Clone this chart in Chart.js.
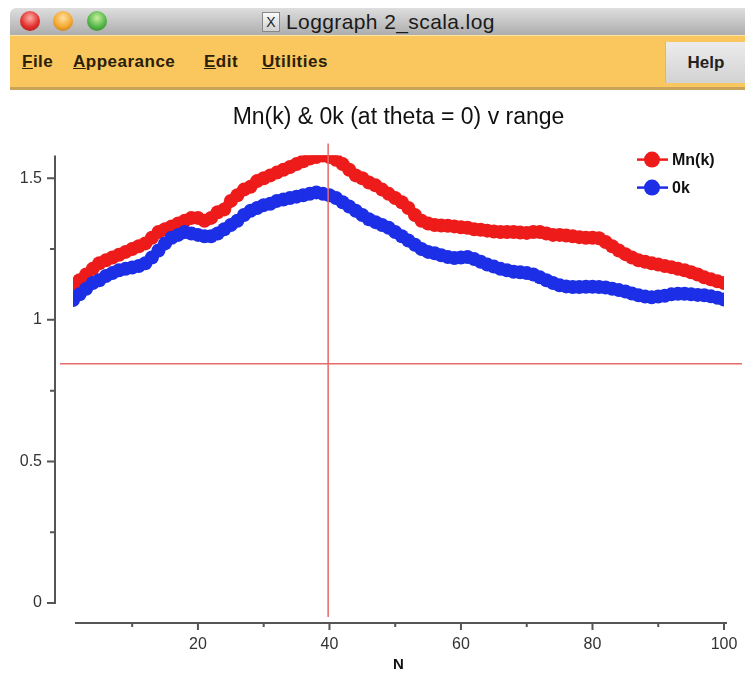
<!DOCTYPE html>
<html>
<head>
<meta charset="utf-8">
<title>Loggraph 2_scala.log</title>
<script src="https://cdn.jsdelivr.net/npm/chart.js@4.4.1/dist/chart.umd.min.js"></script>
<style>
  body { margin: 0; width: 745px; height: 674px; background: #fff; overflow: hidden; position: relative;
         font-family: "Liberation Sans", Arial, sans-serif; }
  #titlebar { position: absolute; left: 10px; top: 8px; right: 0; height: 27px;
              background: linear-gradient(#dedede, #adadad); border-top-left-radius: 6px; }
  .light { position: absolute; top: 3px; width: 20px; height: 20px; border-radius: 50%; }
  .red { left: 10px; background: radial-gradient(circle at 50% 35%, #ffb0a8, #e2302e 55%, #a01414); }
  .amber { left: 43px; background: radial-gradient(circle at 50% 35%, #ffe0a0, #f4a830 55%, #b06a10); }
  .green { left: 77px; background: radial-gradient(circle at 50% 35%, #c8f0a0, #54b648 55%, #2a7a22); }
  #xicon { position: absolute; left: 252px; top: 4px; width: 16px; height: 18px; background: linear-gradient(#fafafa, #cfcfcf);
           border: 1px solid #888; font: 14px "Liberation Sans", sans-serif; line-height: 18px; text-align: center; color: #222; }
  #wtitle { position: absolute; left: 276px; top: 2px; font: 21px "Liberation Sans", sans-serif; color: #1a1a1a; letter-spacing: 0.4px; }
  #menubar { position: absolute; left: 10px; top: 35px; right: 0; height: 51px; background: #f9c75e;
             border-top: 1px solid #fde6a6; border-bottom: 3px solid #c9a35a; }
  .menu { position: absolute; top: 16px; font: bold 17px "Liberation Sans", sans-serif; color: #2a2008; letter-spacing: 0.5px; }
  .menu u { text-decoration: underline; }
  #help { position: absolute; left: 665px; top: 42px; width: 80px; height: 41px;
          background: linear-gradient(#ececec, #d2d2d2); border-left: 1px solid #bbb;
          font: bold 17px "Liberation Sans", sans-serif; color: #222; text-align: center; line-height: 41px; }
  #chart { position: absolute; left: 0; top: 90px; }
</style>
</head>
<body>
<div id="titlebar">
  <div class="light red"></div><div class="light amber"></div><div class="light green"></div>
  <div id="xicon">X</div>
  <div id="wtitle">Loggraph 2_scala.log</div>
</div>
<div id="menubar">
  <span class="menu" style="left:12px"><u>F</u>ile</span>
  <span class="menu" style="left:63px"><u>A</u>ppearance</span>
  <span class="menu" style="left:194px"><u>E</u>dit</span>
  <span class="menu" style="left:252px"><u>U</u>tilities</span>
</div>
<div id="help">Help</div>
<canvas id="chart" width="745" height="584"></canvas>

<script>
// sample index
const N = [1, 2, 3, 4, 5, 6, 7, 8, 9, 10, 11, 12, 13, 14, 15, 16, 17, 18, 19, 20,
  21, 22, 23, 24, 25, 26, 27, 28, 29, 30, 31, 32, 33, 34, 35, 36, 37, 38, 39, 40,
  41, 42, 43, 44, 45, 46, 47, 48, 49, 50, 51, 52, 53, 54, 55, 56, 57, 58, 59, 60,
  61, 62, 63, 64, 65, 66, 67, 68, 69, 70, 71, 72, 73, 74, 75, 76, 77, 78, 79, 80,
  81, 82, 83, 84, 85, 86, 87, 88, 89, 90, 91, 92, 93, 94, 95, 96, 97, 98, 99, 100];

const mnk = [1.12, 1.14, 1.16, 1.18, 1.20, 1.21, 1.22, 1.23, 1.24, 1.25,
  1.26, 1.27, 1.29, 1.31, 1.32, 1.33, 1.34, 1.35, 1.36, 1.36,
  1.35, 1.36, 1.38, 1.39, 1.42, 1.44, 1.46, 1.47, 1.49, 1.50,
  1.51, 1.52, 1.53, 1.54, 1.55, 1.56, 1.57, 1.575, 1.58, 1.575,
  1.565, 1.55, 1.53, 1.51, 1.50, 1.485, 1.475, 1.46, 1.445, 1.43,
  1.415, 1.395, 1.37, 1.35, 1.34, 1.335, 1.333, 1.332, 1.33, 1.327,
  1.325, 1.32, 1.318, 1.315, 1.312, 1.31, 1.31, 1.31, 1.308, 1.307,
  1.31, 1.31, 1.305, 1.30, 1.30, 1.298, 1.295, 1.292, 1.29, 1.29,
  1.288, 1.275, 1.26, 1.245, 1.232, 1.22, 1.21, 1.205, 1.20, 1.195,
  1.19, 1.186, 1.18, 1.175, 1.168, 1.16, 1.15, 1.143, 1.136, 1.13];

const ok = [1.07, 1.09, 1.11, 1.13, 1.14, 1.155, 1.165, 1.175, 1.18, 1.185,
  1.19, 1.20, 1.22, 1.245, 1.27, 1.29, 1.30, 1.31, 1.305, 1.30,
  1.295, 1.295, 1.305, 1.32, 1.335, 1.35, 1.37, 1.385, 1.395, 1.405,
  1.41, 1.42, 1.425, 1.43, 1.435, 1.44, 1.445, 1.45, 1.445, 1.44,
  1.43, 1.415, 1.40, 1.385, 1.37, 1.355, 1.345, 1.335, 1.325, 1.31,
  1.295, 1.28, 1.265, 1.25, 1.24, 1.235, 1.228, 1.222, 1.218, 1.22,
  1.222, 1.215, 1.205, 1.195, 1.188, 1.18, 1.175, 1.17, 1.168, 1.165,
  1.16, 1.15, 1.14, 1.13, 1.122, 1.118, 1.116, 1.116, 1.117, 1.117,
  1.116, 1.114, 1.11, 1.105, 1.10, 1.093, 1.087, 1.082, 1.08, 1.082,
  1.085, 1.09, 1.092, 1.092, 1.09, 1.088, 1.087, 1.083, 1.078, 1.072];

const xTicks = [10, 20, 30, 40, 50, 60, 70, 80, 90, 100];
const yTicks = [0, 0.25, 0.5, 0.75, 1, 1.25, 1.5];

// cursor position (N, value)
const crossN = 39.8;
const crossV = 0.845;

const isMajorY = v => Math.abs(v * 2 - Math.round(v * 2)) < 1e-9;
const FONT = '"Liberation Sans", sans-serif';

// axes are drawn detached from the plot area, like the original tool does
const detachedAxes = {
  id: 'detachedAxes',
  afterDraw(chart) {
    const { ctx, chartArea: ca, scales: { x, y } } = chart;
    const ax = ca.left - 18, ay = ca.bottom + 20;
    ctx.save();
    ctx.strokeStyle = '#555';
    ctx.lineWidth = 2;
    ctx.beginPath();
    ctx.moveTo(ax, ca.top);
    ctx.lineTo(ax, y.getPixelForValue(0) + 1);
    y.ticks.forEach(t => {
      const py = y.getPixelForValue(t.value);
      const len = isMajorY(t.value) ? 8 : 5;
      ctx.moveTo(ax - len, py);
      ctx.lineTo(ax, py);
    });
    ctx.moveTo(ca.left + 2, ay);
    ctx.lineTo(ca.right + 3, ay);
    x.ticks.forEach(t => {
      const px = x.getPixelForValue(t.value);
      const len = t.value % 20 === 0 ? 7 : 4;
      ctx.moveTo(px, ay);
      ctx.lineTo(px, ay + len);
    });
    ctx.stroke();
    ctx.restore();
  }
};

const crosshair = {
  id: 'crosshair',
  afterDatasetsDraw(chart) {
    const { ctx, chartArea: ca, scales: { x, y } } = chart;
    const px = x.getPixelForValue(crossN), py = y.getPixelForValue(crossV);
    ctx.save();
    ctx.strokeStyle = '#e86a6a';
    ctx.lineWidth = 1.5;
    ctx.beginPath();
    ctx.moveTo(px, ca.top - 12);
    ctx.lineTo(px, ca.bottom + 14);
    ctx.moveTo(ca.left - 13, py);
    ctx.lineTo(chart.width - 3, py);
    ctx.stroke();
    ctx.restore();
  }
};

// legend sits inside the plot, top right
const insideLegend = {
  id: 'insideLegend',
  afterDraw(chart) {
    const { ctx, chartArea: ca } = chart;
    const x0 = ca.right - 87, y0 = ca.top + 4;
    ctx.save();
    chart.data.datasets.forEach((ds, i) => {
      const yy = y0 + i * 28;
      ctx.strokeStyle = ds.borderColor;
      ctx.fillStyle = ds.borderColor;
      ctx.lineWidth = 2.5;
      ctx.beginPath();
      ctx.moveTo(x0, yy);
      ctx.lineTo(x0 + 31, yy);
      ctx.stroke();
      ctx.beginPath();
      ctx.arc(x0 + 15, yy, 8, 0, Math.PI * 2);
      ctx.fill();
      ctx.fillStyle = '#111';
      ctx.font = 'bold 16px ' + FONT;
      ctx.textBaseline = 'middle';
      ctx.fillText(ds.label, x0 + 35, yy + 1);
    });
    ctx.restore();
  }
};

new Chart(document.getElementById('chart').getContext('2d'), {
  type: 'line',
  data: {
    datasets: [
      {
        label: 'Mn(k)',
        data: mnk.map((v, i) => ({ x: N[i], y: v })),
        borderColor: '#ee1b1b',
        backgroundColor: '#ee1b1b',
        borderWidth: 10,
        pointRadius: 7,
        pointBorderWidth: 0,
        tension: 0,
        order: 1
      },
      {
        label: '0k',
        data: ok.map((v, i) => ({ x: N[i], y: v })),
        borderColor: '#1c2ee6',
        backgroundColor: '#1c2ee6',
        borderWidth: 10,
        pointRadius: 7,
        pointBorderWidth: 0,
        tension: 0,
        order: 0
      }
    ]
  },
  options: {
    responsive: false,
    animation: false,
    layout: { padding: { left: 0, right: 21, top: 0, bottom: 0 } },
    plugins: {
      legend: { display: false },
      tooltip: { enabled: false },
      title: {
        display: true,
        text: 'Mn(k) & 0k (at theta = 0) v range',
        fullSize: false,
        color: '#111',
        font: { family: FONT, size: 23, weight: 'normal' },
        padding: { top: 14, bottom: 24 }
      }
    },
    scales: {
      x: {
        type: 'linear',
        min: 1,
        max: 100,
        grid: { display: false, drawTicks: false },
        border: { display: false },
        afterBuildTicks: s => { s.ticks = xTicks.map(v => ({ value: v })); },
        afterFit: s => { s.height = 71; s.paddingLeft = 0; s.paddingRight = 0; },
        ticks: {
          padding: 32,
          color: '#333',
          autoSkip: false,
          maxRotation: 0,
          font: { family: FONT, size: 16 },
          callback: v => (v % 20 === 0 ? v : '')
        },
        title: {
          display: true,
          text: 'N',
          color: '#111',
          font: { family: FONT, size: 15, weight: 'bold' },
          padding: { top: 0, bottom: 0 }
        }
      },
      y: {
        min: 0,
        max: 1.58,
        grid: { display: false, drawTicks: false },
        border: { display: false },
        afterBuildTicks: s => { s.ticks = yTicks.map(v => ({ value: v })); },
        afterFit: s => { s.width = 73; s.paddingTop = 0; s.paddingBottom = 0; },
        ticks: {
          padding: 31,
          color: '#333',
          font: { family: FONT, size: 16 },
          callback: v => (isMajorY(v) ? v : '')
        }
      }
    }
  },
  plugins: [detachedAxes, crosshair, insideLegend]
});
</script>
</body>
</html>
